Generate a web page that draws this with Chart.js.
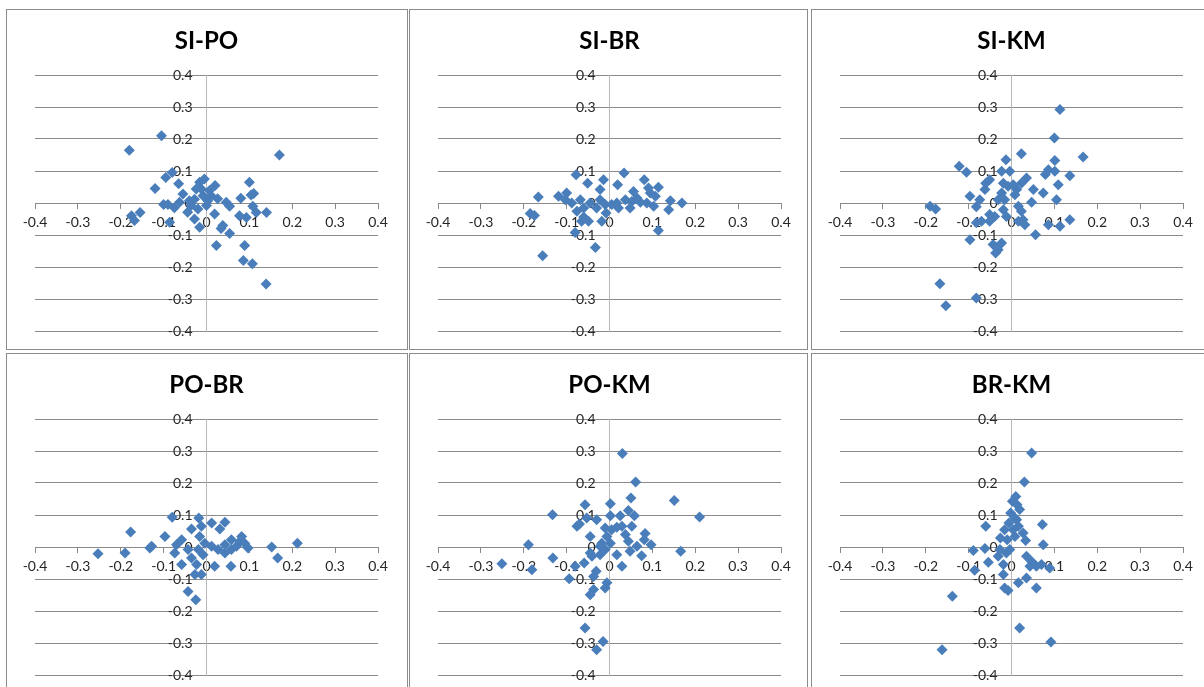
<!DOCTYPE html>
<html lang="en">
<head>
<meta charset="UTF-8">
<title>Pairwise scatter plots</title>
<script src="https://cdn.jsdelivr.net/npm/chart.js"></script>
<style>
  body {
    margin: 0;
    background: #fff;
    width: 1204px;
    height: 687px;
    overflow: hidden;
    position: relative;
    font-family: Lato, sans-serif;
  }
  .panel {
    position: absolute;
    box-sizing: border-box;
    border: 1px solid #8c8c8c;
    background: #fff;
  }
  .panel canvas { display: block; }
</style>
</head>
<body>
<script>
// chart titles, left to right, top to bottom
const titles = ['SI-PO', 'SI-BR', 'SI-KM', 'PO-BR', 'PO-KM', 'BR-KM'];

// axis range shared by all six plots
const axisMin = -0.4;
const axisMax = 0.4;
const axisStep = 0.1;

// [x, y] pairs
const siPo = [
  [-0.105, 0.21], [-0.18, 0.165], [0.17, 0.15], [-0.095, 0.08], [-0.12, 0.045], [-0.065, 0.06],
  [-0.08, 0.095], [0.1, 0.065], [0.11, 0.03], [0.104, 0.025], [0.08, 0.015], [0.108, -0.01],
  [0.14, -0.03], [0.116, -0.03], [0.077, -0.04], [0.054, -0.095], [0.038, -0.07], [0.034, -0.08],
  [0.023, -0.133], [0.089, -0.133], [0.086, -0.18], [0.107, -0.19], [0.139, -0.253], [-0.155, -0.03],
  [-0.175, -0.04], [-0.168, -0.055], [-0.09, -0.005], [-0.086, -0.06], [-0.075, -0.015], [-0.055, 0.028],
  [-0.016, -0.076], [0.019, -0.034], [0.02, 0.055], [-0.005, 0.075], [-0.016, 0.065], [-0.024, 0.044],
  [-0.008, 0.023], [0.007, 0.039], [0.026, 0.013], [0.046, 0.002], [0.054, -0.01], [-0.036, -0.008],
  [-0.044, -0.029], [-0.028, -0.05], [-0.02, -0.019], [0, -0.008], [0.003, 0.007], [-0.04, 0.007],
  [-0.063, 0.002], [-0.1, -0.005], [-0.012, 0.044], [0.011, 0.023], [-0.028, 0.012], [0.093, -0.045]
];

const siBr = [
  [-0.078, 0.088], [0.034, 0.094], [-0.051, 0.062], [-0.014, 0.073], [0.019, 0.057], [0.081, 0.073],
  [0.114, 0.049], [0.095, 0.031], [0.056, 0.036], [-0.166, 0.019], [-0.119, 0.021], [-0.1, 0.031],
  [-0.185, -0.033], [-0.175, -0.039], [-0.156, -0.165], [-0.08, -0.092], [-0.033, -0.139], [-0.018, -0.057],
  [-0.049, -0.057], [-0.065, -0.057], [0.114, -0.086], [0.138, -0.021], [0.142, 0.007], [0.169, 0],
  [0.103, -0.01], [0.087, 0], [0.072, 0.002], [0.048, -0.016], [0.021, -0.016], [0.005, -0.005],
  [-0.01, -0.005], [-0.022, 0.01], [-0.068, 0.01], [-0.088, 0], [-0.076, -0.026], [-0.06, -0.016],
  [-0.022, 0.042], [0.037, 0.01], [0.052, 0.005], [0.064, 0.016], [-0.03, -0.016], [-0.045, 0],
  [-0.103, 0.01], [0.017, 0], [-0.008, -0.031], [-0.06, -0.044], [0.107, 0.021], [0.091, 0.047]
];

const siKm = [
  [0.113, 0.292], [0.1, 0.203], [0.167, 0.144], [0.023, 0.154], [-0.013, 0.135], [-0.122, 0.115],
  [-0.105, 0.096], [0.101, 0.133], [0.101, 0.099], [0.086, 0.104], [0.079, 0.089], [0.136, 0.085],
  [0.109, 0.057], [0.074, 0.031], [0.105, 0.01], [0.051, 0.042], [0.047, 0.002], [0.035, 0.078],
  [0.023, 0.062], [0.012, 0.042], [-0.004, 0.099], [-0.023, 0.099], [-0.019, 0.062], [-0.023, 0.031],
  [-0.016, 0.01], [-0.06, 0.062], [-0.051, 0.073], [-0.097, 0.021], [-0.074, 0.01], [-0.082, -0.012],
  [-0.19, -0.01], [-0.177, -0.019], [-0.097, -0.115], [-0.082, -0.062], [-0.051, -0.057], [-0.043, -0.13],
  [-0.037, -0.156], [-0.023, -0.125], [-0.031, -0.146], [-0.167, -0.252], [-0.153, -0.321], [-0.082, -0.297],
  [0.136, -0.052], [0.113, -0.073], [0.086, -0.068], [0.056, -0.099], [0.031, -0.068], [0.016, -0.057],
  [0.023, -0.026], [0.016, -0.01], [-0.012, -0.042], [-0.019, -0.021], [-0.051, -0.036], [-0.039, -0.042],
  [-0.062, 0.042], [-0.008, 0.052], [0.004, 0.057], [0.008, 0.026], [-0.031, 0.01], [-0.07, -0.057],
  [0.027, -0.052]
];

const poBr = [
  [-0.253, -0.021], [-0.19, -0.019], [-0.177, 0.047], [-0.132, -0.003], [-0.128, 0.002], [-0.097, 0.033],
  [-0.08, 0.093], [-0.018, 0.091], [-0.035, 0.056], [0.012, 0.075], [0.043, 0.077], [0.031, 0.056],
  [-0.058, 0.023], [-0.074, -0.019], [-0.058, -0.055], [-0.035, -0.034], [-0.027, -0.086], [-0.012, -0.086],
  [-0.043, -0.139], [-0.025, -0.165], [0.019, -0.06], [0.057, -0.06], [0.078, 0.018], [0.082, 0.033],
  [0.097, -0.003], [0.152, 0], [0.166, -0.034], [0.212, 0.012], [0.058, 0.023], [0.043, 0.007],
  [0.027, -0.008], [0.012, 0.002], [-0.004, 0.012], [-0.016, 0.033], [-0.012, 0.065], [-0.019, -0.008],
  [-0.008, -0.024], [-0.043, -0.008], [-0.07, 0.007], [0.043, -0.019], [0.07, 0.002], [0.089, 0.012],
  [-0.023, -0.055], [0.058, -0.008]
];

const poKm = [
  [0.03, 0.292], [0.061, 0.203], [0.151, 0.145], [0.21, 0.094], [0.05, 0.153], [0.002, 0.135],
  [-0.057, 0.132], [-0.133, 0.101], [-0.076, 0.065], [-0.07, 0.072], [-0.053, 0.091], [-0.03, 0.085],
  [-0.045, 0.033], [0.002, 0.098], [0.025, 0.098], [0.044, 0.114], [0.058, 0.098], [0.052, 0.065],
  [0.083, 0.042], [0.081, 0.023], [0.097, 0.007], [0.166, -0.013], [0.075, -0.027], [0.048, -0.013],
  [0.044, 0.018], [0.037, 0.039], [0.017, 0.062], [0.005, 0.054], [-0.01, 0.059], [-0.006, 0.033],
  [-0.018, 0.012], [-0.01, -0.008], [-0.022, -0.024], [0.017, -0.024], [0.029, -0.06], [-0.189, 0.007],
  [-0.251, -0.052], [-0.181, -0.071], [-0.132, -0.034], [-0.094, -0.099], [-0.08, -0.06], [-0.059, -0.05],
  [-0.041, -0.029], [-0.031, -0.076], [-0.037, -0.092], [-0.045, -0.149], [-0.037, -0.133], [-0.006, -0.112],
  [-0.01, -0.128], [-0.057, -0.253], [-0.015, -0.295], [-0.03, -0.321], [0.002, 0.012], [-0.022, 0.002],
  [0.029, 0.065], [0.064, 0.002], [-0.045, -0.019]
];

const brKm = [
  [0.047, 0.294], [0.03, 0.203], [0.01, 0.158], [0.002, 0.143], [0.013, 0.132], [0.019, 0.117],
  [-0.002, 0.106], [0.008, 0.091], [-0.006, 0.075], [-0.016, 0.054], [0.004, 0.054], [0.016, 0.065],
  [-0.06, 0.065], [0.072, 0.07], [0.074, 0.007], [0.033, 0.02], [0.027, 0.044], [-0.089, -0.011],
  [-0.062, -0.005], [-0.054, -0.048], [-0.086, -0.073], [-0.031, -0.029], [-0.019, -0.055], [-0.019, -0.086],
  [-0.016, -0.128], [-0.008, -0.136], [0.016, -0.112], [0.035, -0.097], [0.058, -0.128], [0.035, -0.029],
  [0.047, -0.045], [0.058, -0.06], [0.043, -0.06], [0.07, -0.055], [0.089, -0.066], [-0.138, -0.154],
  [-0.162, -0.321], [0.019, -0.253], [0.092, -0.297], [-0.01, 0.023], [-0.004, -0.008], [-0.027, -0.008],
  [-0.012, -0.019], [0.008, 0.033], [0.012, 0.085], [-0.026, 0.028]
];

const panelPoints = [siPo, siBr, siKm, poBr, poKm, brKm];

// panel boxes on the page
const colLeft = [6, 409, 811];
const colWidth = [402, 399, 400];
const rowTop = [9, 353];
const panelHeight = 341;

const plotLeft = 28;
const plotWidth = 343;

const tickFont = {family: 'Lato', size: 14};
const tickColor = '#262626';

function tickText(v) {
  const r = Math.round(v * 10) / 10;
  return r === 0 ? '0' : String(r);
}

// y labels sit just left of the vertical axis at x = 0, under the markers
const yLabelsAtZero = {
  id: 'yLabelsAtZero',
  beforeDatasetsDraw(chart) {
    const ctx = chart.ctx;
    const xs = chart.scales.x;
    const ys = chart.scales.y;
    const x = xs.getPixelForValue(0) - 14;
    ctx.save();
    ctx.font = tickFont.size + 'px ' + tickFont.family;
    ctx.fillStyle = tickColor;
    ctx.textAlign = 'right';
    ctx.textBaseline = 'middle';
    ys.ticks.forEach(function (t) {
      ctx.fillText(tickText(t.value), x, ys.getPixelForValue(t.value));
    });
    ctx.restore();
  }
};

panelPoints.forEach(function (pts, i) {
  const col = i % 3;
  const row = Math.floor(i / 3);
  const w = colWidth[col];

  const div = document.createElement('div');
  div.className = 'panel';
  div.style.left = colLeft[col] + 'px';
  div.style.top = rowTop[row] + 'px';
  div.style.width = w + 'px';
  div.style.height = panelHeight + 'px';
  document.body.appendChild(div);

  const innerW = w - 2;
  const innerH = panelHeight - 2;
  const canvas = document.createElement('canvas');
  canvas.width = innerW;
  canvas.height = innerH;
  canvas.style.width = innerW + 'px';
  canvas.style.height = innerH + 'px';
  div.appendChild(canvas);

  new Chart(canvas, {
    type: 'scatter',
    data: {
      datasets: [{
        data: pts.map(p => ({x: p[0], y: p[1]})),
        pointStyle: 'rectRot',
        radius: 5.5,
        backgroundColor: '#4a7ebb',
        borderColor: '#4a7ebb',
        borderWidth: 0
      }]
    },
    options: {
      responsive: false,
      animation: false,
      layout: {
        padding: {left: plotLeft, right: innerW - plotLeft - plotWidth, top: 0, bottom: 18}
      },
      plugins: {
        legend: {display: false},
        tooltip: {enabled: false},
        title: {
          display: true,
          text: titles[i],
          color: '#000',
          font: {family: 'Lato', size: 24, weight: 'bold'},
          padding: {top: 16.6, bottom: 19.6}
        }
      },
      scales: {
        x: {
          type: 'linear',
          position: {y: 0},
          min: axisMin,
          max: axisMax,
          ticks: {
            stepSize: axisStep,
            padding: 6,
            color: tickColor,
            font: tickFont,
            maxRotation: 0,
            autoSkip: false,
            callback: tickText
          },
          grid: {drawOnChartArea: false, drawTicks: true, tickLength: 5, color: '#8a8a8a'},
          border: {color: '#8a8a8a'}
        },
        y: {
          type: 'linear',
          position: {x: 0},
          min: axisMin,
          max: axisMax,
          ticks: {stepSize: axisStep, display: false},
          grid: {drawTicks: false, color: '#8a8a8a'},
          border: {color: '#b8b8b8'}
        }
      }
    },
    plugins: [yLabelsAtZero]
  });
});
</script>
</body>
</html>
